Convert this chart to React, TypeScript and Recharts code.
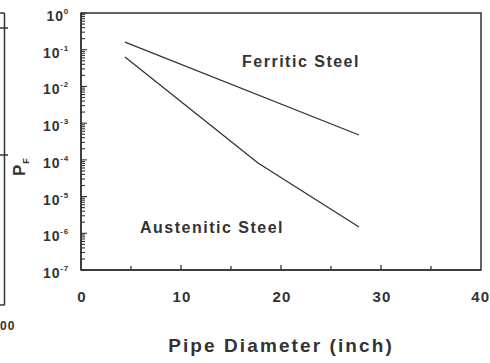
import React from 'react';
import { LineChart, Line, XAxis, YAxis, ReferenceArea, Label, Customized } from 'recharts';

// Data
const ferriticDiameter = [4.4, 27.8];
const ferriticProb = [0.162, 4.75e-4];
const austeniticDiameter = [4.4, 17.7, 27.8];
const austeniticProb = [0.063, 8.2e-5, 1.48e-6];

const xTicks = [0, 5, 10, 15, 20, 25, 30, 35, 40];
const xTickLabels = ['0', '', '10', '', '20', '', '30', '', '40'];
const yExponents = [0, -1, -2, -3, -4, -5, -6, -7];

const ferriticData = ferriticDiameter.map((d, i) => ({ d, p: ferriticProb[i] }));
const austeniticData = austeniticDiameter.map((d, i) => ({ d, p: austeniticProb[i] }));

const yTicks: number[] = [];
yExponents.forEach((e) => {
  yTicks.push(Math.pow(10, e));
  if (e > -7) {
    for (let m = 2; m <= 9; m++) yTicks.push(m * Math.pow(10, e - 1));
  }
});

const INK = '#333333';
const FONT = '"Liberation Sans", Arial, Helvetica, sans-serif';

const isMajor = (v: number) => {
  const l = Math.log10(v);
  return Math.abs(l - Math.round(l)) < 1e-6;
};

const YTick = (props: any) => {
  const { x, y, payload } = props;
  const v = payload.value;
  const major = isMajor(v);
  const len = major ? 6 : 4;
  const exp = Math.round(Math.log10(v));
  return (
    <g>
      <line x1={x} y1={y} x2={x + len} y2={y} stroke={INK} strokeWidth={1.1} />
      {major && (
        <text x={x - 12} y={y + 8} textAnchor="end" fill={INK} fontFamily={FONT} fontWeight="bold" fontSize={14} letterSpacing={0.8}>
          10
          <tspan fontSize={8} dy={-7}>{String(exp)}</tspan>
        </text>
      )}
    </g>
  );
};

const XTick = (props: any) => {
  const { x, y, payload } = props;
  const v = payload.value;
  const lbl = xTickLabels[xTicks.indexOf(v)] ?? '';
  const major = v % 10 === 0;
  const last = v === 40;
  return (
    <g>
      {v > 0 && v < 40 && (
        <line x1={x} y1={y} x2={x} y2={y - (major ? 5 : 4)} stroke={INK} strokeWidth={1.3} />
      )}
      {lbl && (
        <text
          x={last ? x + 8 : x + 1}
          y={y + 32}
          textAnchor={last ? 'end' : 'middle'}
          fill={INK}
          fontFamily={FONT}
          fontWeight="bold"
          fontSize={15}
          letterSpacing={last ? 0 : 1.2}
        >
          {last ? <><tspan>4</tspan><tspan dx={1}>0</tspan></> : lbl}
        </text>
      )}
    </g>
  );
};

const XLabel = (props: any) => {
  const vb = props.viewBox || {};
  const cx = vb.x + vb.width / 2;
  return (
    <text x={cx} y={352} textAnchor="middle" fill={INK} fontFamily={FONT} fontWeight="bold" fontSize={19} letterSpacing={2.1}>
      Pipe Diameter (inch)
    </text>
  );
};

const YLabel = () => (
  <text transform="translate(25,176) rotate(-90)" fill={INK} fontFamily={FONT} fontWeight="bold" fontSize={17}>
    P<tspan fontSize={9} dy={4} dx={1}>F</tspan>
  </text>
);

const Fragment = () => (
  <g>
    <line x1={4.5} y1={13} x2={4.5} y2={305} stroke={INK} strokeWidth={1.5} />
    <line x1={0} y1={13} x2={4.5} y2={13} stroke={INK} strokeWidth={1.5} />
    <line x1={0} y1={305} x2={4.5} y2={305} stroke={INK} strokeWidth={1.5} />
    <line x1={0} y1={28} x2={8} y2={28} stroke={INK} strokeWidth={1.5} />
    <line x1={0} y1={155} x2={8} y2={155} stroke={INK} strokeWidth={1.5} />
    <text x={0} y={330} fill={INK} fontFamily={FONT} fontWeight="bold" fontSize={12} letterSpacing={1}>00</text>
  </g>
);

const Annotations = () => (
  <g fontFamily={FONT} fill={INK} fontWeight="bold">
    <text x={301} y={67} textAnchor="middle" fontSize={16} letterSpacing={1.5}>Ferritic Steel</text>
    <text x={212} y={233} textAnchor="middle" fontSize={16} letterSpacing={1.5}>Austenitic Steel</text>
  </g>
);

export default function App() {
  return (
    <div style={{ position: 'fixed', left: 0, top: 0, width: 490, height: 363, background: '#fff' }}>
      <LineChart width={490} height={363} margin={{ top: 13, right: 9, bottom: 0, left: 0 }}>
        <XAxis
          dataKey="d"
          type="number"
          domain={[0, 40]}
          ticks={xTicks}
          interval={0}
          height={93}
          tickSize={0}
          tickMargin={0}
          tickLine={false}
          axisLine={{ stroke: INK, strokeWidth: 1.5 }}
          tick={<XTick />}
          allowDataOverflow
        >
          <Label content={<XLabel />} />
        </XAxis>
        <YAxis
          dataKey="p"
          type="number"
          scale="log"
          domain={[1e-7, 1]}
          ticks={yTicks}
          interval={0}
          width={81}
          tickSize={0}
          tickMargin={0}
          tickLine={false}
          axisLine={{ stroke: INK, strokeWidth: 1.5 }}
          tick={<YTick />}
          allowDataOverflow
        >
          <Label content={<YLabel />} />
        </YAxis>
        <ReferenceArea x1={0} x2={40} y1={1e-7} y2={1} fill="none" fillOpacity={0} stroke={INK} strokeWidth={1.5} />
        <Line data={ferriticData} dataKey="p" stroke={INK} strokeWidth={1.3} dot={false} isAnimationActive={false} />
        <Line data={austeniticData} dataKey="p" stroke={INK} strokeWidth={1.3} dot={false} isAnimationActive={false} />
        <Customized component={Fragment} />
        <Customized component={Annotations} />
      </LineChart>
    </div>
  );
}
